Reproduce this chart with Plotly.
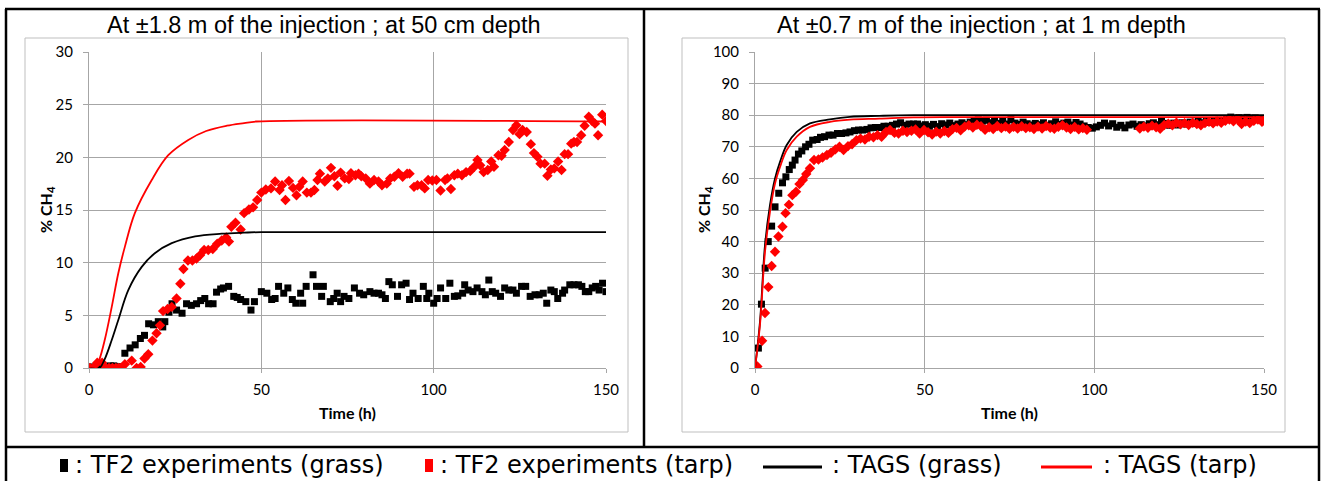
import plotly.graph_objects as go

W, H = 1322, 481

# ---------------- Left panel data (±1.8 m, 50 cm depth) ----------------
l_grass_t = [0.3, 1.2, 2.2, 3.2, 4.2, 5.2, 6.2, 7.2, 8.2, 9.0, 10.4, 11.9, 13.4, 14.9, 16.1, 17.3, 18.7, 20.1, 21.4, 22.0,
             23.2, 24.1, 25.4, 27.0, 28.3, 29.7, 31.2, 32.4, 33.6, 34.7, 36.0, 37.0, 38.2, 39.0, 40.5, 42.0, 43.0, 44.0,
             45.5, 47.0, 48.0, 50.0, 51.6, 53.0, 54.0, 55.0, 56.5, 57.7, 59.0, 60.0, 61.4, 62.0, 63.0, 65.0, 66.0, 67.5,
             68.0, 70.0, 71.0, 72.0, 73.0, 74.0, 75.4, 77.0, 78.5, 79.7, 81.5, 82.7, 84.0, 85.0, 86.0, 87.0, 88.0, 89.5,
             90.7, 92.0, 93.0, 94.0, 95.5, 97.0, 98.0, 98.6, 100.0, 101.0, 102.0, 103.5, 104.7, 106.0, 107.0, 108.4,
             109.0, 110.0, 111.4, 112.6, 114.0, 115.0, 116.0, 117.0, 118.0, 119.4, 120.6, 121.8, 123.0, 124.0, 125.5,
             126.7, 128.0, 129.4, 130.6, 131.8, 132.8, 134.0, 135.0, 136.0, 137.4, 138.0, 139.5, 140.7, 142.0, 143.0,
             144.0, 145.0, 146.0, 147.0, 148.0, 149.0, 150.0]
l_grass_v = [0.1, 0.0, 0.1, 0.2, 0.1, 0.0, 0.2, 0.2, 0.1, 0.1, 1.4, 1.9, 2.2, 2.8, 3.1, 4.2, 4.1, 4.4, 3.9, 4.4,
             5.3, 6.1, 5.5, 5.2, 6.1, 5.95, 6.1, 6.4, 6.6, 6.1, 6.1, 7.2, 7.5, 7.6, 7.75, 6.8, 6.7, 6.5,
             6.3, 5.5, 6.3, 7.25, 7.1, 6.5, 6.6, 7.75, 7.1, 7.6, 6.5, 6.15, 7.1, 6.15, 7.75, 8.85, 7.75, 6.8,
             7.75, 6.3, 6.6, 7.1, 6.3, 6.8, 6.6, 7.6, 7.1, 6.95, 7.25, 7.1, 7.1, 6.95, 6.6, 8.2, 7.9, 6.8,
             7.9, 8.05, 6.5, 7.1, 6.6, 7.75, 6.6, 7.1, 6.15, 6.6, 7.6, 6.6, 8.05, 6.8, 6.85, 7.1,
             7.9, 7.4, 7.25, 7.6, 7.25, 6.95, 8.35, 7.25, 7.1, 6.8, 7.6, 7.4, 7.4, 7.1, 7.75,
             7.75, 6.8, 6.95, 6.95, 7.1, 6.15, 7.4, 7.25, 6.6, 7.1, 7.4, 7.9, 7.9, 7.9, 7.75,
             7.25, 7.25, 7.6, 7.75, 7.4, 8.05, 7.25]

l_tarp_t = [0.3, 1.2, 2.4, 3.8, 4.8, 5.8, 6.8, 7.8, 8.6, 9.3, 10.4, 12.4, 13.8, 15.0, 16.1, 17.2, 18.4, 19.6, 20.6, 21.5,
            22.8, 24.0, 25.4, 26.5, 27.4, 28.7, 30.0, 31.2, 32.2, 33.4, 34.6, 35.9, 37.2, 38.5, 39.8, 40.6, 41.3, 42.5,
            44.0, 45.0, 46.4, 47.6, 48.8, 50.0, 51.3, 52.8, 54.0, 55.3, 56.0, 57.0, 58.0, 59.2, 60.2, 61.0, 62.0, 63.2,
            64.4, 65.4, 66.3, 67.0, 68.4, 69.3, 70.2, 71.2, 72.1, 73.0, 74.2, 75.4, 76.0, 77.3, 78.2, 79.0, 80.3, 81.5,
            82.7, 84.0, 85.0, 86.4, 87.4, 88.6, 89.8, 91.0, 92.3, 93.0, 94.3, 95.3, 96.5, 97.4, 98.4, 99.6, 100.8,
            102.0, 103.3, 104.0, 105.0, 106.0, 107.0, 108.2, 109.4, 110.6, 111.8, 112.7, 113.5, 114.5, 115.7, 116.7,
            117.5, 118.8, 119.7, 120.6, 121.8, 123.0, 124.0, 124.9, 125.8, 127.0, 128.2, 129.1, 130.1, 131.0, 132.2,
            133.0, 134.0, 135.0, 136.1, 137.1, 138.0, 139.0, 139.9, 140.7, 141.6, 142.8, 143.8, 145.0, 146.0, 146.8,
            147.7, 148.9, 150.0]
l_tarp_v = [0.0, 0.0, 0.5, 0.5, 0.0, 0.0, 0.0, 0.0, 0.0, 0.0, 0.35, 0.7, 0.0, 0.1, 0.9, 1.3, 2.6, 3.3, 4.05, 5.4,
            5.6, 5.8, 6.6, 8.0, 9.4, 10.2, 10.2, 10.4, 10.7, 11.2, 11.2, 11.3, 11.8, 12.1, 12.4, 12.0, 13.4, 13.8,
            13.15, 14.7, 15.05, 15.25, 15.95, 16.65, 16.95, 17.05, 17.7, 16.9, 17.35, 15.95, 17.75, 17.1, 16.4, 17.2, 17.7, 16.65,
            16.65, 16.9, 17.85, 18.45, 17.7, 18.0, 19.0, 18.2, 17.3, 18.55, 18.0, 17.95, 18.5, 18.3, 18.45, 18.2, 18.0, 17.5,
            17.85, 17.7, 17.35, 17.5, 18.0, 18.15, 18.5, 18.15, 18.45, 18.45, 17.2, 17.35, 17.35, 17.05, 17.85, 17.8, 17.85,
            16.85, 17.85, 18.0, 17.0, 18.3, 18.45, 18.3, 18.6, 18.7, 19.1, 19.75, 19.25, 18.6, 18.8, 19.6,
            19.1, 20.2, 20.15, 20.7, 21.45, 22.6, 23.05, 22.2, 22.6, 22.4, 21.25, 20.4, 20.05, 19.4, 19.4,
            18.25, 18.85, 18.95, 19.6, 18.8, 20.3, 20.3, 21.3, 21.45, 21.45, 22.1, 23.0, 23.85, 23.45, 23.2,
            22.1, 24.05, 23.45]

l_tags_grass_t = [0, 3.0, 4.5, 6.6, 8.5, 11.4, 15.3, 19.1, 24.0, 30.8, 38.5, 45.0, 50.0, 150.0]
l_tags_grass_v = [0, 0.0, 0.8, 2.66, 4.56, 7.4, 9.6, 10.9, 11.85, 12.5, 12.75, 12.85, 12.9, 12.9]
l_tags_tarp_t = [0, 1.8, 3.0, 4.6, 6.6, 8.5, 10.4, 13.3, 18.2, 23.0, 28.8, 34.0, 40.0, 45.0, 48.5, 150.0]
l_tags_tarp_v = [0, 0.0, 0.8, 2.7, 5.8, 9.0, 11.5, 14.7, 17.85, 20.2, 21.65, 22.5, 23.0, 23.25, 23.4, 23.4]

# ---------------- Right panel data (±0.7 m, 1 m depth) ----------------
r_grass_t = [0, 1, 1.9, 3, 3.9, 4.9, 5.9, 7, 8.1, 9.1, 10.1, 11, 11.8, 12.8, 13.8, 14.9, 15.9, 17, 18.3, 19.3,
             20.5, 21.8, 23, 24.3, 25.5, 26.8, 28, 29.3, 30.5, 31.7, 33, 34.2, 35.5, 36.7, 38, 39.2, 40.5, 41.7,
             42.9, 44.2, 45.4, 46.7, 47.9, 49, 50.2, 51.4, 52.6, 53.8, 55, 56.2, 57.4, 58.6, 59.8, 61, 62.2, 63.4,
             64.6, 65.8, 67, 68.2, 69.4, 70.6, 71.8, 73, 74.2, 75.4, 76.6, 77.8, 79, 80.2, 81.4, 82.6, 83.8, 85,
             86.2, 87.4, 88.6, 89.8, 91, 92.2, 93.4, 94.6, 95.8, 97, 98.2, 99.4, 100.6, 101.8, 103, 104.2, 105.4,
             106.6, 107.8, 109, 110.2, 111.4, 112.6, 113.8, 115, 116.2, 117.4, 118.6, 119.8, 121, 122.2, 123.4,
             124.6, 125.8, 127, 128.2, 129.4, 130.6, 131.8, 133, 134.2, 135.4, 136.6, 137.8, 139, 140.2, 141.4,
             142.6, 143.8, 145, 146.2, 147.4, 148.6, 149.8]
r_grass_v = [0.2, 6.3, 20.2, 31.6, 40.0, 44.9, 51.0, 55.3, 58.6, 60.5, 62.8, 64.2, 65.8, 67.7, 68.7, 70.0, 70.8, 72.1, 72.3, 73.0,
             73.2, 73.7, 73.7, 74.2, 74.2, 74.4, 74.7, 75.1, 75.3, 75.3, 75.5, 76.0, 76.1, 76.1, 76.5, 76.5, 76.8, 77.2,
             77.6, 76.8, 77.2, 77.2, 77.2, 76.6, 77.0, 76.5, 77.1, 76.4, 77.3, 76.9, 77.5, 76.7, 77.2, 77.6, 77.0, 77.8,
             78.3, 78.5, 78.1, 78.4, 77.6, 78.2, 77.4, 78.0, 77.2, 78.6, 77.5, 77.1, 77.8, 77.3, 76.9, 77.4, 77.0, 77.6,
             76.8, 77.3, 77.9, 77.1, 77.5, 77.8, 76.9, 77.7, 77.2, 76.6, 76.1, 75.9, 76.3, 76.8, 77.5, 76.6, 77.3,
             76.2, 76.8, 76.0, 76.9, 77.2, 76.5, 77.0, 76.6, 77.3, 77.6, 77.0, 78.0, 77.4, 76.8, 77.5,
             76.9, 77.6, 77.2, 77.8, 77.4, 78.1, 77.6, 78.0, 77.7, 78.2, 78.4, 78.0, 78.9, 79.4, 78.8,
             79.2, 78.9, 79.3, 78.8, 79.1, 78.6, 78.9]

r_tarp_t = [0, 0.7, 2.1, 2.95, 3.93, 4.9, 5.9, 6.9, 8.1, 9, 10, 11, 12.1, 13.1, 14.1, 15.1, 16.2, 17.4, 18.7, 19.9,
            21.2, 22.4, 23.7, 24.9, 26.1, 27.4, 28.6, 29.9, 31.1, 32.4, 33.6, 34.9, 36.1, 37.3, 38.6, 39.8, 41.1,
            42.3, 43.6, 44.8, 46.1, 47.3, 48.5, 49.8, 51, 52.2, 53.4, 54.6, 55.8, 57, 58.2, 59.4, 60.6, 61.8, 63,
            64.2, 65.4, 66.6, 67.8, 69, 70.2, 71.4, 72.6, 73.8, 75, 76.2, 77.4, 78.6, 79.8, 81, 82.2, 83.4, 84.6,
            85.8, 87, 88.2, 89.4, 90.6, 91.8, 93, 94.2, 95.4, 96.6, 97.8, 113.4, 114.6, 115.8, 117, 118.2, 119.4,
            120.6, 121.8, 123, 124.2, 125.4, 126.6, 127.8, 129, 130.2, 131.4, 132.6, 133.8, 135, 136.2, 137.4,
            138.6, 139.8, 141, 142.2, 143.4, 144.6, 145.8, 147, 148.2, 149.4, 150]
r_tarp_v = [0.0, 0.5, 8.6, 17.4, 25.6, 32.3, 36.8, 41.6, 44.7, 49.0, 51.7, 54.7, 55.8, 58.2, 59.5, 61.4, 63.2, 65.8, 66.0, 66.6,
            67.4, 68.1, 69.2, 70.0, 69.0, 70.2, 70.8, 72.1, 72.6, 72.3, 73.2, 73.0, 73.7, 73.2, 74.7, 75.3, 74.4,
            74.2, 75.1, 74.7, 75.1, 75.5, 74.2, 75.3, 74.6, 73.9, 74.8, 74.2, 75.0, 74.4, 75.6, 76.0, 75.2, 76.4, 76.8,
            76.1, 77.0, 76.5, 75.4, 76.2, 75.6, 76.6, 75.9, 76.4, 75.7, 76.3, 75.8, 76.5, 75.9, 76.2, 75.6, 76.4, 75.8,
            76.6, 76.0, 75.7, 76.3, 76.8, 76.1, 75.6, 76.3, 75.5, 75.9, 75.4, 75.8, 76.4, 76.0, 76.7, 76.2, 75.7,
            76.9, 77.3, 76.8, 77.6, 77.1, 77.5, 76.9, 77.6, 77.2, 76.8, 77.5, 77.9, 77.4, 78.0, 77.6,
            78.2, 78.6, 78.1, 78.7, 77.2, 78.0, 77.5, 78.2, 78.6, 77.9, 78.3]

r_tags_grass_t = [0, 1.47, 2.95, 4.42, 5.9, 7.4, 9.3, 12.3, 16.2, 22.1, 28.0, 36.7, 46.7, 150.0]
r_tags_grass_v = [0, 14.7, 39.0, 51.6, 60.0, 65.3, 70.5, 74.7, 77.4, 78.7, 79.5, 79.8, 80.0, 80.0]
r_tags_tarp_t = [0, 1.47, 2.95, 4.42, 5.9, 7.4, 9.3, 12.3, 16.2, 22.1, 28.0, 36.7, 46.7, 59.0, 150.0]
r_tags_tarp_v = [0, 13.7, 36.8, 49.5, 58.4, 63.7, 68.9, 73.2, 76.3, 77.9, 78.6, 78.9, 79.3, 79.4, 79.4]

titles = ["At ±1.8 m of the injection ; at 50 cm depth", "At ±0.7 m of the injection ; at 1 m depth"]
x_ticks = [0, 50, 100, 150]
left_y_ticks = [0, 5, 10, 15, 20, 25, 30]
right_y_ticks = [0, 10, 20, 30, 40, 50, 60, 70, 80, 90, 100]
legend_labels = [": TF2 experiments (grass)", ": TF2 experiments (tarp)", ": TAGS (grass)", ": TAGS (tarp)"]

BLACK = "#000000"
RED = "#FF0000"
GRID = "#A6A6A6"


def px(x):
    return x / W


def py(y):
    return 1 - y / H


fig = go.Figure()

panels = [
    ("x", "y", l_grass_t, l_grass_v, l_tarp_t, l_tarp_v, l_tags_grass_t, l_tags_grass_v, l_tags_tarp_t, l_tags_tarp_v),
    ("x2", "y2", r_grass_t, r_grass_v, r_tarp_t, r_tarp_v, r_tags_grass_t, r_tags_grass_v, r_tags_tarp_t, r_tags_tarp_v),
]
for xa, ya, gt, gv, tt, tv, mgt, mgv, mtt, mtv in panels:
    fig.add_trace(go.Scatter(x=gt, y=gv, xaxis=xa, yaxis=ya, mode="markers",
                             marker=dict(symbol="square", size=7, color=BLACK), showlegend=False))
    fig.add_trace(go.Scatter(x=tt, y=tv, xaxis=xa, yaxis=ya, mode="markers",
                             marker=dict(symbol="diamond", size=8, color=RED), showlegend=False))
    fig.add_trace(go.Scatter(x=mgt, y=mgv, xaxis=xa, yaxis=ya, mode="lines", line_shape="spline",
                             line=dict(color=BLACK, width=1.8), showlegend=False))
    fig.add_trace(go.Scatter(x=mtt, y=mtv, xaxis=xa, yaxis=ya, mode="lines", line_shape="spline",
                             line=dict(color=RED, width=1.8), showlegend=False))

tickfont = dict(family="Lato, Liberation Sans, Arial", size=15, color="#000000")
common_x = dict(range=[0, 150], tickvals=x_ticks, showgrid=True, gridcolor=GRID, gridwidth=1,
                showline=True, linecolor=GRID, linewidth=1, ticks="outside", ticklen=4, tickcolor=GRID,
                zeroline=False, tickfont=tickfont, ticklabelstandoff=4)
common_y = dict(showgrid=True, gridcolor=GRID, gridwidth=1, showline=True, linecolor=GRID, linewidth=1,
                ticks="outside", ticklen=5, tickcolor=GRID, zeroline=False, tickfont=tickfont,
                ticklabelstandoff=7)

fig.update_layout(
    autosize=True, margin=dict(l=0, r=0, t=0, b=0, autoexpand=False),
    paper_bgcolor="white", plot_bgcolor="white", showlegend=False,
    xaxis=dict(domain=[px(89), px(606)], anchor="y", **common_x),
    yaxis=dict(domain=[py(368), py(52)], anchor="x", range=[0, 30], tickvals=left_y_ticks, **common_y),
    xaxis2=dict(domain=[px(755), px(1264)], anchor="y2", **common_x),
    yaxis2=dict(domain=[py(368), py(52)], anchor="x2", range=[0, 100], tickvals=right_y_ticks, **common_y),
)

shapes = []
# chart-area boxes (light grey)
for x0, x1 in [(25, 628), (682, 1285)]:
    shapes.append(dict(type="rect", xref="paper", yref="paper", x0=px(x0), x1=px(x1), y0=py(432), y1=py(38),
                       line=dict(color="#BFBFBF", width=1)))
# table borders (thick black)
thick = dict(color="#000000", width=2.5)
shapes += [
    dict(type="line", xref="paper", yref="paper", x0=px(5), x1=px(1320), y0=py(9), y1=py(9), line=thick),
    dict(type="line", xref="paper", yref="paper", x0=px(6), x1=px(6), y0=py(9), y1=py(481), line=thick),
    dict(type="line", xref="paper", yref="paper", x0=px(1319), x1=px(1319), y0=py(9), y1=py(481), line=thick),
    dict(type="line", xref="paper", yref="paper", x0=px(644), x1=px(644), y0=py(9), y1=py(447), line=thick),
    dict(type="line", xref="paper", yref="paper", x0=px(5), x1=px(1320), y0=py(447), y1=py(447), line=thick),
]
# legend symbols
leg_y = 465
shapes += [
    dict(type="rect", xref="paper", yref="paper", x0=px(60), x1=px(68), y0=py(472), y1=py(459),
         fillcolor=BLACK, line=dict(width=0)),
    dict(type="rect", xref="paper", yref="paper", x0=px(425), x1=px(433), y0=py(472), y1=py(459),
         fillcolor=RED, line=dict(width=0)),
    dict(type="line", xref="paper", yref="paper", x0=px(763), x1=px(822), y0=py(leg_y + 2), y1=py(leg_y + 2),
         line=dict(color=BLACK, width=3)),
    dict(type="line", xref="paper", yref="paper", x0=px(1041), x1=px(1092), y0=py(leg_y + 2), y1=py(leg_y + 2),
         line=dict(color=RED, width=3)),
]
fig.update_layout(shapes=shapes)

ann = []
title_font = dict(family="Liberation Sans, Arial", size=23.5, color="#000000")
for cx, t in zip([324, 981], titles):
    ann.append(dict(xref="paper", yref="paper", x=px(cx), y=py(25), text=t, showarrow=False,
                    xanchor="center", yanchor="middle", font=title_font))
axis_font = dict(family="Lato, Liberation Sans, Arial", size=16, color="#000000")
for cx in [347, 1009]:
    ann.append(dict(xref="paper", yref="paper", x=px(cx), y=py(412), text="<b>Time (h)</b>", showarrow=False,
                    xanchor="center", yanchor="middle", font=axis_font))
for cx in [46, 704]:
    ann.append(dict(xref="paper", yref="paper", x=px(cx), y=py(210), text="<b>% CH<sub>4</sub></b>",
                    showarrow=False, textangle=-90, xanchor="center", yanchor="middle", font=axis_font))
leg_font = dict(family="DejaVu Sans", size=24, color="#000000")
for lx, lab in zip([73, 438, 830, 1101], legend_labels):
    ann.append(dict(xref="paper", yref="paper", x=px(lx), y=py(leg_y), text=lab, showarrow=False,
                    xanchor="left", yanchor="middle", font=leg_font))
fig.update_layout(annotations=ann)

fig.write_html(
    "out.html",
    default_width="100vw",
    default_height="100vh",
    config={"responsive": True, "displayModeBar": False},
    post_script="document.documentElement.style.overflow='hidden';document.body.style.margin='0';"
                "document.body.style.overflow='hidden';",
)
